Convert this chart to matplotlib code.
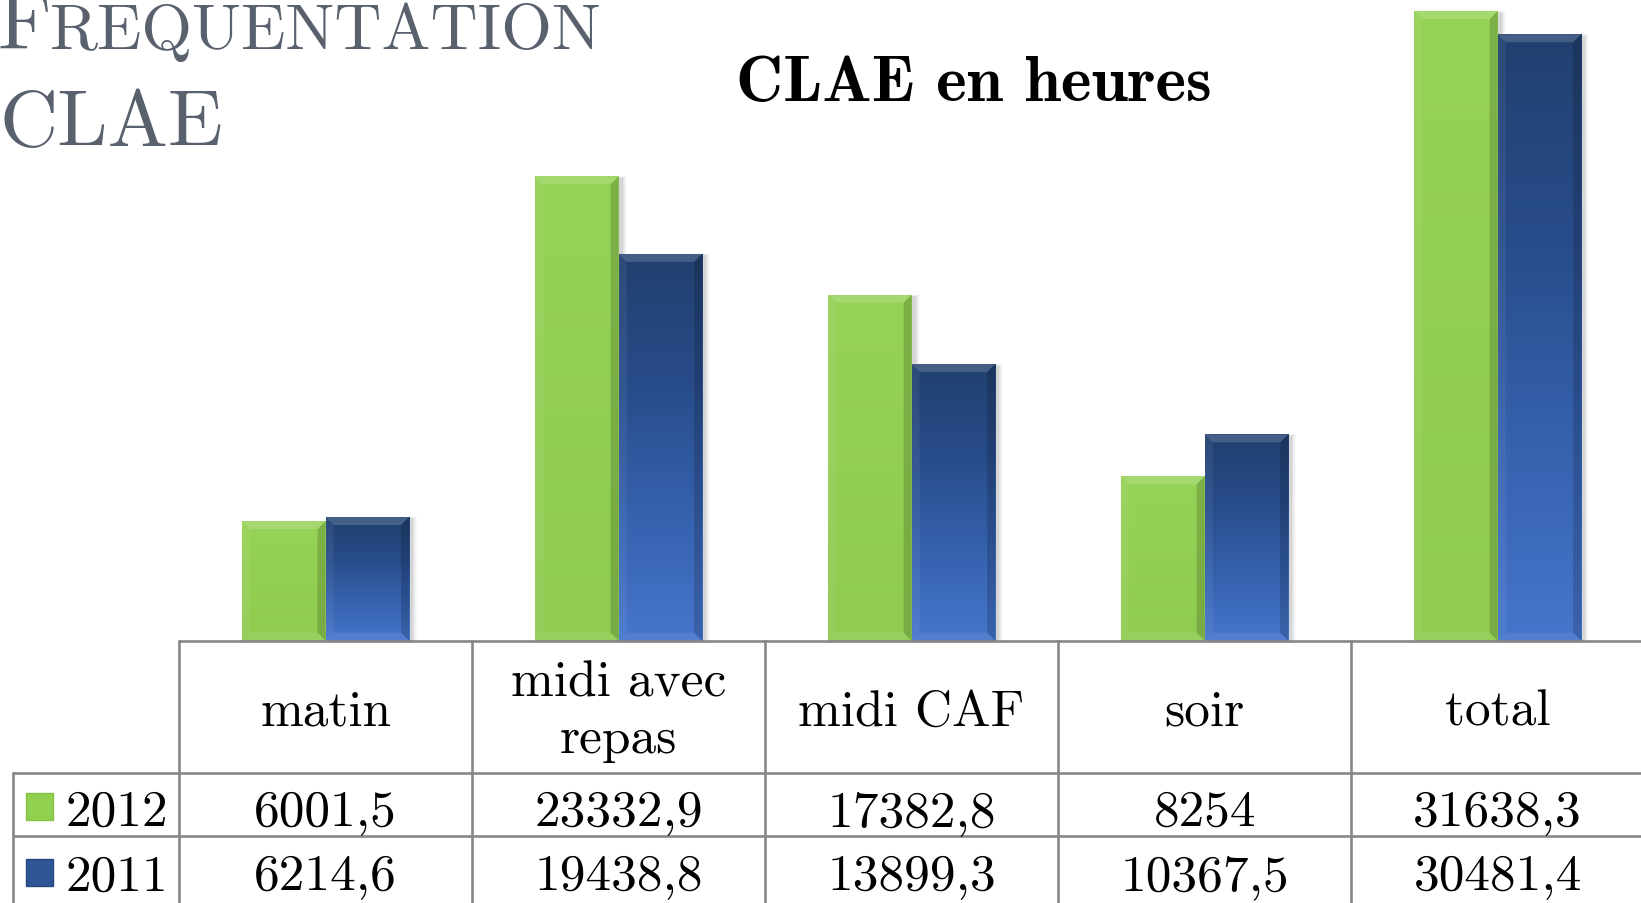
import numpy as np
import matplotlib
matplotlib.use("Agg")
import matplotlib.pyplot as plt
from matplotlib.colors import LinearSegmentedColormap
from matplotlib.patches import Polygon, Rectangle
from matplotlib.transforms import IdentityTransform

# ---------------- data ----------------
categories = ["matin", "midi avec\nrepas", "midi CAF", "soir", "total"]
series_names = ["2012", "2011"]
values_2012 = [6001.5, 23332.9, 17382.8, 8254, 31638.3]
values_2011 = [6214.6, 19438.8, 13899.3, 10367.5, 30481.4]
title = "CLAE en heures"
slide_title_first = "F"
slide_title_rest = "REQUENTATION"
slide_title_line2 = "CLAE"

def fmt(v):
    return f"{v:g}".replace(".", ",")

# ---------------- figure ----------------
W, H = 1641, 904
fig = plt.figure(figsize=(W / 100, H / 100), dpi=100)
fig.patch.set_facecolor("white")

SERIF = ["cmr10", "DejaVu Serif"]
BOLD = ["cmb10", "DejaVu Serif"]

base_y = 641.6          # pixel from top of bar baseline
ax_left, col_w = 179.0, 293.05
ax = fig.add_axes([ax_left / W, (H - base_y) / H, 5 * col_w / W, base_y / H])
ax.set_xlim(-0.5, 4.5)
ax.set_ylim(0, 32250)
ax.axis("off")

bw = 0.285
x = np.arange(len(categories))
green_cmap = LinearSegmentedColormap.from_list("g", ["#8fcc50", "#95d356"])
blue_cmap = LinearSegmentedColormap.from_list("b", ["#4676cc", "#3561ad", "#284c8a", "#21406f"])
bars_g = ax.bar(x - bw / 2, values_2012, bw, color="#92d050", zorder=2, linewidth=0)
bars_b = ax.bar(x + bw / 2, values_2011, bw, color="#3a66b5", zorder=2, linewidth=0)

fig.canvas.draw()
ident = IdentityTransform()
grad = np.linspace(0, 1, 256).reshape(-1, 1)

def decorate(patch, cmap):
    x0, w, h = patch.get_x(), patch.get_width(), patch.get_height()
    im = ax.imshow(grad, extent=[x0, x0 + w, 0, h], origin="lower", aspect="auto",
                   cmap=cmap, zorder=3, interpolation="bicubic")
    im.set_clip_path(patch)
    (px0, py0) = ax.transData.transform((x0, 0))
    (px1, py1) = ax.transData.transform((x0 + w, h))
    # soft shadow
    for k, a in zip(range(1, 6), [0.05, 0.04, 0.03, 0.025, 0.02]):
        sh = Rectangle((px0 + 2, py0), (px1 - px0) + k + 1, (py1 - py0) - 2 + k * 0.5,
                       transform=ident, facecolor="black", alpha=a, linewidth=0, zorder=1)
        ax.add_artist(sh)
    b = 8
    polys = [
        ([(px0, py1), (px1, py1), (px1 - b, py1 - b), (px0 + b, py1 - b)], "white", 0.16),
        ([(px0, py0), (px0, py1), (px0 + b, py1 - b), (px0 + b, py0 + b)], "white", 0.06),
        ([(px1, py0), (px1, py1), (px1 - b, py1 - b), (px1 - b, py0 + b)], "black", 0.16),
        ([(px0, py0), (px1, py0), (px1 - b, py0 + b), (px0 + b, py0 + b)], "white", 0.08),
    ]
    for pts, c, a in polys:
        ax.add_artist(Polygon(pts, closed=True, transform=ident, facecolor=c,
                              alpha=a, linewidth=0, zorder=4))

for p in bars_g:
    decorate(p, green_cmap)
for p in bars_b:
    decorate(p, blue_cmap)
ax.set_xlim(-0.5, 4.5)
ax.set_ylim(0, 32250)

# ---------------- overlay (pixel coords, y from top) ----------------
ov = fig.add_axes([0, 0, 1, 1], zorder=5)
ov.set_xlim(0, W)
ov.set_ylim(H, 0)
ov.axis("off")
ov.patch.set_alpha(0)

lc, lw = "#878787", 1.9
col_edges = [ax.transData.transform((i - 0.5, 0))[0] for i in range(len(categories) + 1)]
right_edge = col_edges[-1]
leg_left = 12.6
row_tops = [641.6, 773.5, 837.3]
ov.plot([col_edges[0], right_edge], [row_tops[0]] * 2, color=lc, lw=lw, solid_capstyle="butt")
for yy in row_tops[1:]:
    ov.plot([leg_left, right_edge], [yy] * 2, color=lc, lw=lw, solid_capstyle="butt")
ov.plot([leg_left] * 2, [row_tops[1], H + 2], color=lc, lw=lw)
for xe in col_edges[:-1]:
    ov.plot([xe] * 2, [row_tops[0], H + 2], color=lc, lw=lw)

fs = 37
centers = [ax.transData.transform((i, 0))[0] for i in x]
for cx, cat in zip(centers, categories):
    lines = cat.split("\n")
    if len(lines) == 1:
        ov.text(cx, 726, lines[0], family=SERIF, fontsize=fs, ha="center", va="baseline")
    else:
        ov.text(cx, 697, lines[0], family=SERIF, fontsize=fs, ha="center", va="baseline")
        ov.text(cx, 753.5, lines[1], family=SERIF, fontsize=fs, ha="center", va="baseline")

row_baselines = [825.8, 890.5]
key_tops = [794, 860]
key_colors = [("#92d050", "#86c246"), ("#2f5597", "#26497f")]
for vals, name, yb, kt, (kc, kc2) in zip([values_2012, values_2011], series_names,
                                        row_baselines, key_tops, key_colors):
    for cx, v in zip(centers, vals):
        ov.text(cx, yb, fmt(v), family=SERIF, fontsize=fs, ha="center", va="baseline")
    ov.add_patch(Rectangle((26, kt), 26.5, 26.5, facecolor=kc, edgecolor=kc2, lw=1))
    ov.text(66, yb, name, family=SERIF, fontsize=fs, ha="left", va="baseline")

# titles
ov.text(974, 101.5, title, family=BOLD, fontsize=47, ha="center", va="baseline", color="black")
gray = "#59616e"
ov.text(-2, 49, slide_title_first, family=SERIF, fontsize=59, ha="left", va="baseline", color=gray)
ov.text(50, 49, slide_title_rest, family=SERIF, fontsize=47, ha="left", va="baseline", color=gray)
ov.text(-1, 146.5, slide_title_line2, family=SERIF, fontsize=58, ha="left", va="baseline", color=gray)

fig.savefig("out.png", dpi=100, facecolor="white")
